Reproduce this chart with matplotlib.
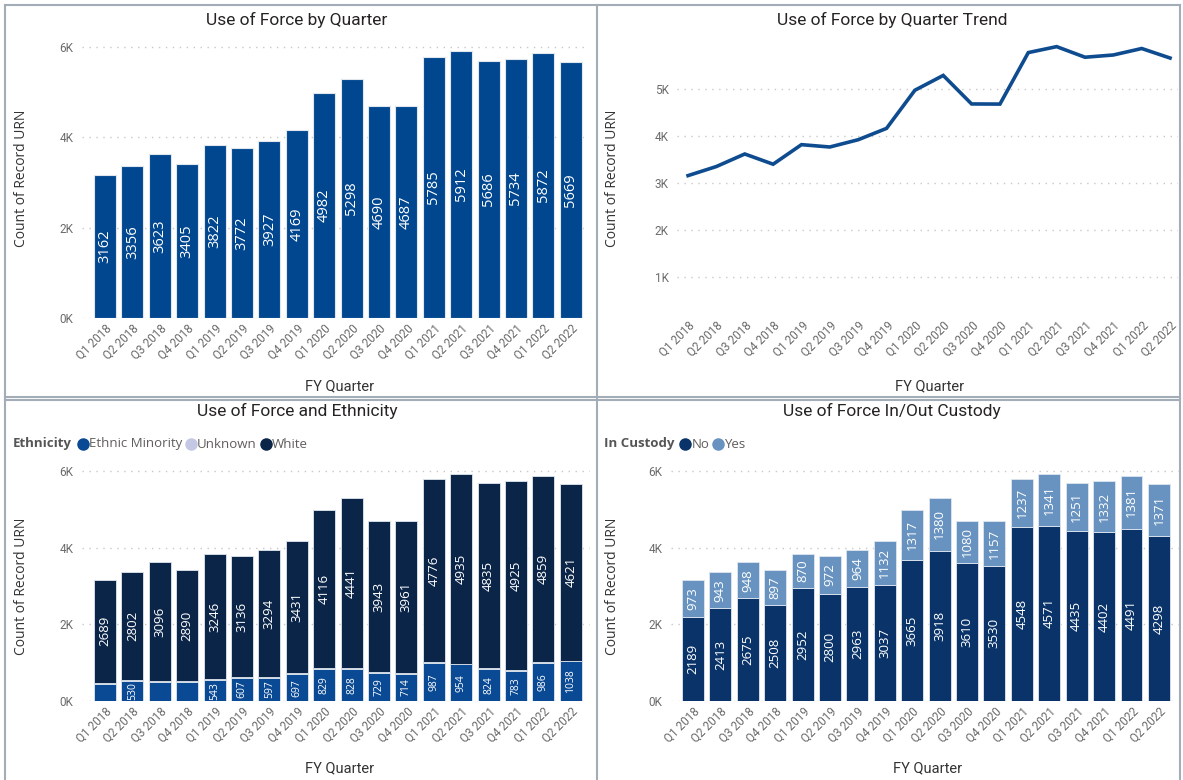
import numpy as np
import matplotlib
matplotlib.use("Agg")
import matplotlib.pyplot as plt
from matplotlib.lines import Line2D

plt.rcParams['font.family'] = ['Open Sans', 'DejaVu Sans']

quarters = ['Q1 2018', 'Q2 2018', 'Q3 2018', 'Q4 2018', 'Q1 2019', 'Q2 2019',
            'Q3 2019', 'Q4 2019', 'Q1 2020', 'Q2 2020', 'Q3 2020', 'Q4 2020',
            'Q1 2021', 'Q2 2021', 'Q3 2021', 'Q4 2021', 'Q1 2022', 'Q2 2022']
totals = [3162, 3356, 3623, 3405, 3822, 3772, 3927, 4169, 4982, 5298, 4690, 4687,
          5785, 5912, 5686, 5734, 5872, 5669]

# ethnicity breakdown (first, third and fourth minority values estimated, labels hidden)
eth_minority = [445, 530, 500, 490, 543, 607, 597, 697, 829, 828, 729, 714,
                987, 954, 824, 783, 986, 1038]
eth_minority_labels = ['', '530', '', '', '543', '607', '597', '697', '829', '828',
                       '729', '714', '987', '954', '824', '783', '986', '1038']
eth_unknown = [28, 24, 27, 25, 33, 29, 36, 41, 37, 29, 18, 12, 22, 23, 27, 26, 27, 10]
eth_white = [2689, 2802, 3096, 2890, 3246, 3136, 3294, 3431, 4116, 4441, 3943, 3961,
             4776, 4935, 4835, 4925, 4859, 4621]

custody_no = [2189, 2413, 2675, 2508, 2952, 2800, 2963, 3037, 3665, 3918, 3610, 3530,
              4548, 4571, 4435, 4402, 4491, 4298]
custody_yes = [973, 943, 948, 897, 870, 972, 964, 1132, 1317, 1380, 1080, 1157,
               1237, 1341, 1251, 1332, 1381, 1371]

W, H = 1183, 780
fig = plt.figure(figsize=(W / 100, H / 100), dpi=100)
fig.patch.set_facecolor('white')

TITLE_FONT = ['Roboto', 'DejaVu Sans']
TICK_COLOR = '#6b6b6b'
GRID_COLOR = '#c8c8c8'
EDGE = '#dfe6ee'


def axes_px(left, right, bottom, top):
    return fig.add_axes([left / W, 1 - bottom / H, (right - left) / W, (bottom - top) / H])


def k_fmt(v, pos=None):
    return '%dK' % int(round(v / 1000))


def style(ax, ticks):
    for s in ax.spines.values():
        s.set_visible(False)
    ax.set_yticks(ticks)
    ax.yaxis.set_major_formatter(plt.FuncFormatter(k_fmt))
    ax.set_xticks(range(len(quarters)))
    ax.set_xticklabels(quarters, rotation=45, ha='right', rotation_mode='anchor')
    ax.tick_params(length=0, labelsize=8.5, labelcolor=TICK_COLOR, pad=6)
    ax.tick_params(axis='x', pad=3)
    ax.yaxis.grid(True, linestyle=(0, (1, 4)), color=GRID_COLOR, linewidth=1)
    ax.set_axisbelow(True)
    for lbl in ax.get_xticklabels() + ax.get_yticklabels():
        lbl.set_family(TITLE_FONT)


def panel_text(title, cx, ty, ylab_x, ylab_y, xlab_x, xlab_y):
    fig.text(cx / W, 1 - ty / H, title, ha='center', va='center', fontsize=12.5,
             color='#252423', family=TITLE_FONT)
    fig.text(ylab_x / W, 1 - ylab_y / H, 'Count of Record URN', rotation=90,
             ha='center', va='center', fontsize=10, color='#333333')
    fig.text(xlab_x / W, 1 - xlab_y / H, 'FY Quarter', ha='center', va='center',
             fontsize=10.5, color='#333333', family=TITLE_FONT)


x = np.arange(len(quarters))

# --- top left: bars ---
ax1 = axes_px(82, 588, 318, 42.5)
bar_col = '#01478F'
ax1.bar(x, totals, width=0.8, color=bar_col, edgecolor=EDGE, linewidth=0.8)
for i, v in enumerate(totals):
    ax1.text(i, v / 2, str(v), rotation=90, ha='center', va='center', color='white',
             fontsize=10.5)
ax1.set_ylim(0, 6100)
ax1.set_xlim(-0.84, 17.63)
style(ax1, [0, 2000, 4000, 6000])
panel_text('Use of Force by Quarter', 297, 20, 22, 178, 340, 386)

# --- top right: line ---
ax2 = axes_px(677, 1178, 315, 35)
ax2.plot(x, totals, color='#0F4C8F', linewidth=2.6, solid_joinstyle='miter')
ax2.set_ylim(190, 6160)
ax2.set_xlim(-0.39, 17.28)
style(ax2, [1000, 2000, 3000, 4000, 5000])
panel_text('Use of Force by Quarter Trend', 892, 20, 612, 178, 930, 386)

# --- bottom left: ethnicity stacked ---
ax3 = axes_px(82, 590, 701, 465)
em = np.array(eth_minority)
unk = np.array(eth_unknown)
wh = np.array(eth_white)
c_em, c_unk, c_wh = '#0A4A94', '#C4C8E4', '#0B2548'
ax3.bar(x, em, width=0.8, color=c_em, edgecolor=EDGE, linewidth=0.6)
ax3.bar(x, unk, bottom=em, width=0.8, color=c_unk, edgecolor=EDGE, linewidth=0.3)
ax3.bar(x, wh, bottom=em + unk, width=0.8, color=c_wh, edgecolor=EDGE, linewidth=0.6)
for i in range(len(quarters)):
    if eth_minority_labels[i]:
        ax3.text(i, em[i] / 2, eth_minority_labels[i], rotation=90, ha='center',
                 va='center', color='white', fontsize=7.5)
    ax3.text(i, em[i] + unk[i] + wh[i] / 2, str(wh[i]), rotation=90, ha='center',
             va='center', color='white', fontsize=9.5)
ax3.set_ylim(0, 6155)
ax3.set_xlim(-0.84, 17.7)
style(ax3, [0, 2000, 4000, 6000])
panel_text('Use of Force and Ethnicity', 297, 411, 22, 586, 340, 768)

# --- bottom right: custody stacked ---
ax4 = axes_px(671, 1180, 701, 465)
no = np.array(custody_no)
yes = np.array(custody_yes)
c_no, c_yes = '#0A3469', '#6893C0'
ax4.bar(x, no, width=0.8, color=c_no, edgecolor=EDGE, linewidth=0.6)
ax4.bar(x, yes, bottom=no, width=0.8, color=c_yes, edgecolor=EDGE, linewidth=0.6)
for i in range(len(quarters)):
    ax4.text(i, no[i] / 2, str(no[i]), rotation=90, ha='center', va='center',
             color='white', fontsize=9.5)
    ax4.text(i, no[i] + yes[i] / 2, str(yes[i]), rotation=90, ha='center',
             va='center', color='white', fontsize=9.5)
ax4.set_ylim(0, 6155)
ax4.set_xlim(-0.80, 17.77)
style(ax4, [0, 2000, 4000, 6000])
panel_text('Use of Force In/Out Custody', 892, 411, 612, 586, 928, 768)

# --- legends (Power BI style: title then dots) ---
renderer = fig.canvas.get_renderer()


def legend_row(x0, y0, title, items):
    t = fig.text(x0 / W, 1 - y0 / H, title, ha='left', va='center', fontsize=9.5,
                 fontweight='bold', color='#555555')
    cur = t.get_window_extent(renderer).x1 + 5
    for label, col in items:
        fig.add_artist(Line2D([(cur + 6) / W], [1 - y0 / H], marker='o', markersize=8,
                              color=col, linestyle='none', transform=fig.transFigure))
        tt = fig.text((cur + 12) / W, 1 - y0 / H, label, ha='left', va='center',
                      fontsize=9.5, color='#605E5C')
        cur = tt.get_window_extent(renderer).x1 + 3


legend_row(13, 444, 'Ethnicity', [('Ethnic Minority', c_em), ('Unknown', c_unk),
                                  ('White', c_wh)])
legend_row(604, 444, 'In Custody', [('No', c_no), ('Yes', c_yes)])

# --- panel borders ---
border = '#a3adb8'
for xs, ys in [([5, 1180], [5, 5]), ([5, 5], [5, 780]), ([1180, 1180], [5, 780]),
               ([597, 597], [5, 780]), ([5, 1180], [397, 397]), ([5, 1180], [400, 400])]:
    fig.add_artist(Line2D([v / W for v in xs], [1 - v / H for v in ys], color=border,
                          linewidth=1.5, transform=fig.transFigure))

fig.savefig('out.png', dpi=100, facecolor='white')
